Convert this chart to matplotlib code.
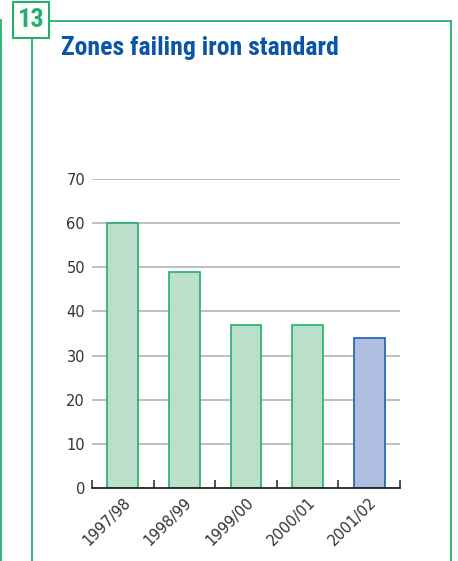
import matplotlib
matplotlib.use("Agg")
import matplotlib.pyplot as plt
from matplotlib.lines import Line2D
from matplotlib.patches import Rectangle

# Data
years = ["1997/98", "1998/99", "1999/00", "2000/01", "2001/02"]
zones = [60, 49, 37, 37, 34]
highlight = [False, False, False, False, True]
y_ticks = [0, 10, 20, 30, 40, 50, 60, 70]

W, H = 458, 561
GREEN = "#22b06a"
GREEN_FILL = "#badfca"
BLUE_EDGE = "#1a5fb4"
BLUE_FILL = "#aebde0"
TITLE_BLUE = "#0b55a6"
TEXT = "#333333"
NARROW = ["Roboto Condensed", "Roboto"]
SANS = ["DejaVu Sans"]

fig = plt.figure(figsize=(W / 100, H / 100), dpi=100)

def px(x, y):
    return x / W, 1 - y / H

# Frame lines and number badge
frame = [
    [(1, 20), (1, 561)],
    [(32, 38), (32, 561)],
    [(49, 21), (451, 21)],
    [(451, 21), (451, 561)],
]
for (a, b) in frame:
    (x0, y0), (x1, y1) = px(*a), px(*b)
    fig.add_artist(Line2D([x0, x1], [y0, y1], color=GREEN, lw=1.3,
                          transform=fig.transFigure))
bx, by = px(13, 38)
fig.add_artist(Rectangle((bx, by), 36 / W, 36 / H, transform=fig.transFigure,
                         facecolor="white", edgecolor=GREEN, lw=1.5))
fig.text(*px(31, 20), "13", color=GREEN, fontsize=19, fontweight="bold",
         family=NARROW, ha="center", va="center")

fig.text(*px(61, 48), "Zones failing iron standard", color=TITLE_BLUE,
         fontsize=18.5, fontweight="bold", family=NARROW,
         ha="left", va="center")

# Bar chart
ax = fig.add_axes([92 / W, 1 - 488 / H, (400 - 92) / W, (488 - 179) / H])
xs = list(range(len(years)))
for x, v, hl in zip(xs, zones, highlight):
    ax.bar(x, v, width=0.5, color=BLUE_FILL if hl else GREEN_FILL,
           edgecolor=BLUE_EDGE if hl else GREEN, linewidth=1.2, zorder=3)

ax.set_xlim(-0.5, len(years) - 0.5)
ax.set_ylim(0, 70)
ax.set_yticks(y_ticks)
ax.set_yticklabels([str(t) for t in y_ticks], color=TEXT, fontsize=10.5,
                   family=SANS)
ax.tick_params(axis="y", length=0, pad=5)
for t in y_ticks[1:]:
    ax.axhline(t, color="#adadad", lw=1.1, zorder=1)

for s in ["top", "right", "left"]:
    ax.spines[s].set_visible(False)
ax.spines["bottom"].set_color("#222222")
ax.spines["bottom"].set_linewidth(1.3)
ax.spines["bottom"].set_zorder(4)

# Upward ticks at category boundaries
ax.set_xticks([i - 0.5 for i in range(len(years) + 1)], minor=False)
ax.set_xticklabels([])
ax.tick_params(axis="x", direction="in", length=6, width=1.1, color="#222222")
ax.set_xticks(xs, minor=True)
ax.set_xticklabels(years, minor=True, rotation=45, ha="right", va="top",
                   rotation_mode="anchor", fontsize=10.5, color=TEXT,
                   family=SANS)
ax.tick_params(axis="x", which="minor", length=0, pad=5)

fig.savefig("out.png", dpi=100)
